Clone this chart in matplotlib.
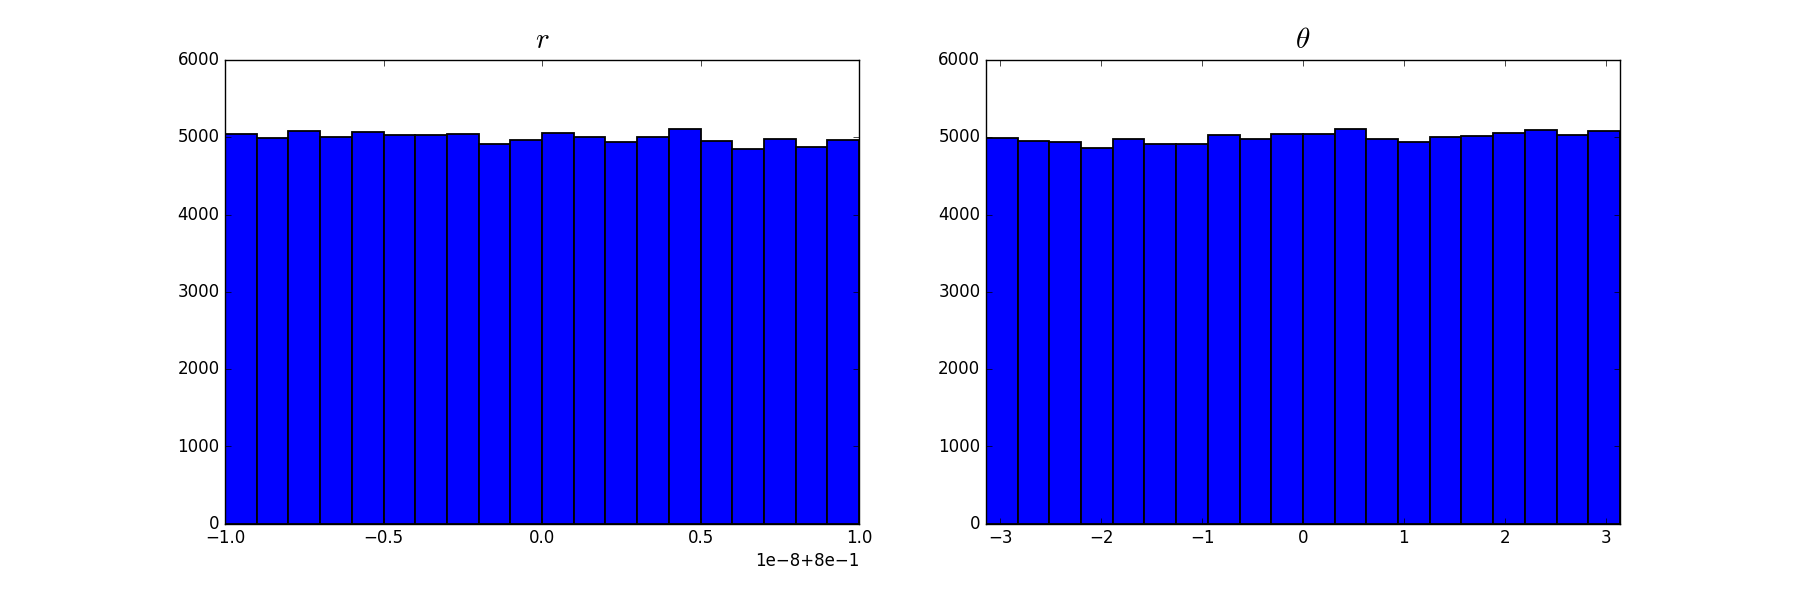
import numpy as np
import matplotlib
matplotlib.use('Agg')
import matplotlib.pyplot as plt

plt.style.use('classic')

# bin counts (20 bins each)
r_counts = [5045, 4994, 5084, 5002, 5075, 5024, 5032, 5037, 4916, 4963,
            5050, 4998, 4938, 4998, 5105, 4950, 4852, 4972, 4873, 4968]
theta_counts = [4994, 4946, 4933, 4856, 4981, 4916, 4916, 5024, 4981, 5045,
                5037, 5101, 4981, 4933, 4998, 5011, 5054, 5088, 5024, 5080]

r_range = (0.8 - 1e-8, 0.8 + 1e-8)
theta_range = (-np.pi, np.pi)


def draw_hist(ax, counts, lims, title):
    edges = np.linspace(lims[0], lims[1], len(counts) + 1)
    ax.bar(edges[:-1], counts, width=np.diff(edges), align='edge',
           color='blue', edgecolor='black', linewidth=1.3)
    ax.set_xlim(lims)
    ax.set_ylim(0, 6000)
    ax.set_title(title, fontsize=21, y=1.01)


fig, axes = plt.subplots(1, 2, figsize=(18, 6), dpi=100)
fig.subplots_adjust(left=0.125, right=0.9, bottom=0.127, top=0.9, wspace=0.2)

draw_hist(axes[0], r_counts, r_range, r'$r$')
draw_hist(axes[1], theta_counts, theta_range, r'$\theta$')

fig.savefig('out.png', dpi=100, facecolor='white')
